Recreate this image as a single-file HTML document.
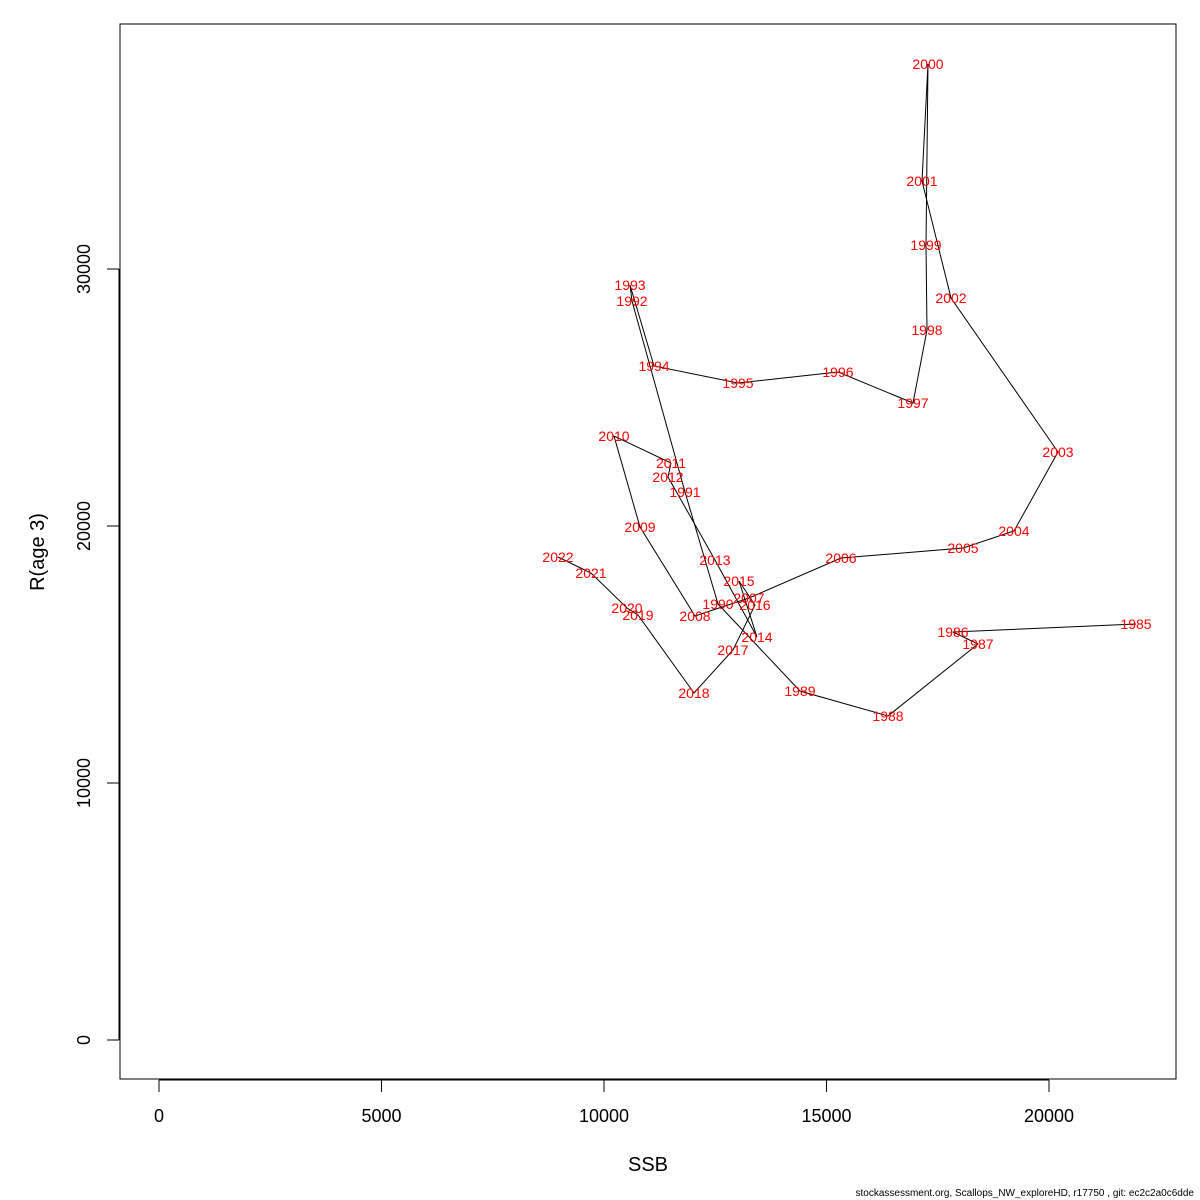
<!DOCTYPE html>
<html><head><meta charset="utf-8"><style>
body{margin:0;background:#fff}
svg{display:block;font-family:"Liberation Sans",sans-serif}
</style></head><body>
<svg id="chart" width="1200" height="1200" xmlns="http://www.w3.org/2000/svg">
<rect x="120" y="24" width="1056" height="1055" fill="none" stroke="#000" stroke-width="1"/>
<g id="xaxis"></g>
<g id="yaxis"></g>
<path id="trajectory" fill="none" stroke="#000" stroke-width="1"/>
<g id="labels"></g>
<text x="648" y="1171" font-size="20" text-anchor="middle">SSB</text>
<text transform="translate(44,552) rotate(-90)" font-size="20" text-anchor="middle">R(age 3)</text>
<text x="1194" y="1196" font-size="10" text-anchor="end">stockassessment.org, Scallops_NW_exploreHD, r17750 , git: ec2c2a0c6dde</text>
</svg>
<script>
const years=[1985,1986,1987,1988,1989,1990,1991,1992,1993,1994,1995,1996,1997,1998,1999,2000,2001,2002,2003,2004,2005,2006,2007,2008,2009,2010,2011,2012,2013,2014,2015,2016,2017,2018,2019,2020,2021,2022];
const ssb=[21955,17843,18404,16382,14404,12562,11820,10629,10584,11124,13011,15258,16944,17258,17236,17281,17146,17798,20202,19213,18067,15326,13258,12045,10809,10225,11506,11438,12494,13438,13034,13393,12899,12022,10764,10517,9708,8966];
const rec=[16187,15875,15409,12607,13580,16965,21323,28755,29377,26226,25564,25992,24786,27626,30934,37977,33424,28872,22879,19805,19144,18755,17198,16498,19961,23502,22451,21907,18677,15681,17860,16926,15175,13502,16537,16809,18171,18794];
const xTicks=[0,5000,10000,15000,20000];
const yTicks=[0,10000,20000,30000];
const NS="http://www.w3.org/2000/svg";
const X=v=>159+v*0.0445;
const Y=v=>1040-v*0.0257;
function mk(tag,attrs,parent){const e=document.createElementNS(NS,tag);for(const k in attrs)e.setAttribute(k,attrs[k]);parent.appendChild(e);return e;}
const xa=document.getElementById('xaxis');
mk('line',{x1:X(0),x2:X(20000),y1:1080,y2:1080,stroke:'#000'},xa);
xTicks.forEach(t=>{
 const l=mk('line',{x1:X(t),x2:X(t),y1:1080,y2:1092,stroke:'#000'},xa);
 
 
 const tx=mk('text',{x:X(t),y:1122,'font-size':18,'text-anchor':'middle'},xa);
 
 
 tx.textContent=t;
});
const ya=document.getElementById('yaxis');
mk('line',{x1:119,x2:119,y1:Y(0),y2:Y(30000),stroke:'#000'},ya);
yTicks.forEach(t=>{
 const l=mk('line',{x1:107,x2:119,y1:Y(t),y2:Y(t),stroke:'#000'},ya);
 
 
 const tx=mk('text',{transform:`translate(90,${Y(t)}) rotate(-90)`,'font-size':18,'text-anchor':'middle'},ya);
 
 
 tx.textContent=t;
});
document.getElementById('trajectory').setAttribute('d',ssb.map((s,i)=>(i?'L':'M')+X(s).toFixed(1)+','+Y(rec[i]).toFixed(1)).join(''));
const lg=document.getElementById('labels');
years.forEach((yr,i)=>{
 const t=mk('text',{x:X(ssb[i]),y:Y(rec[i])+5,'font-size':14,fill:'#ff0000','text-anchor':'middle'},lg);
 
 
 t.textContent=yr;
});
</script>
</body></html>
